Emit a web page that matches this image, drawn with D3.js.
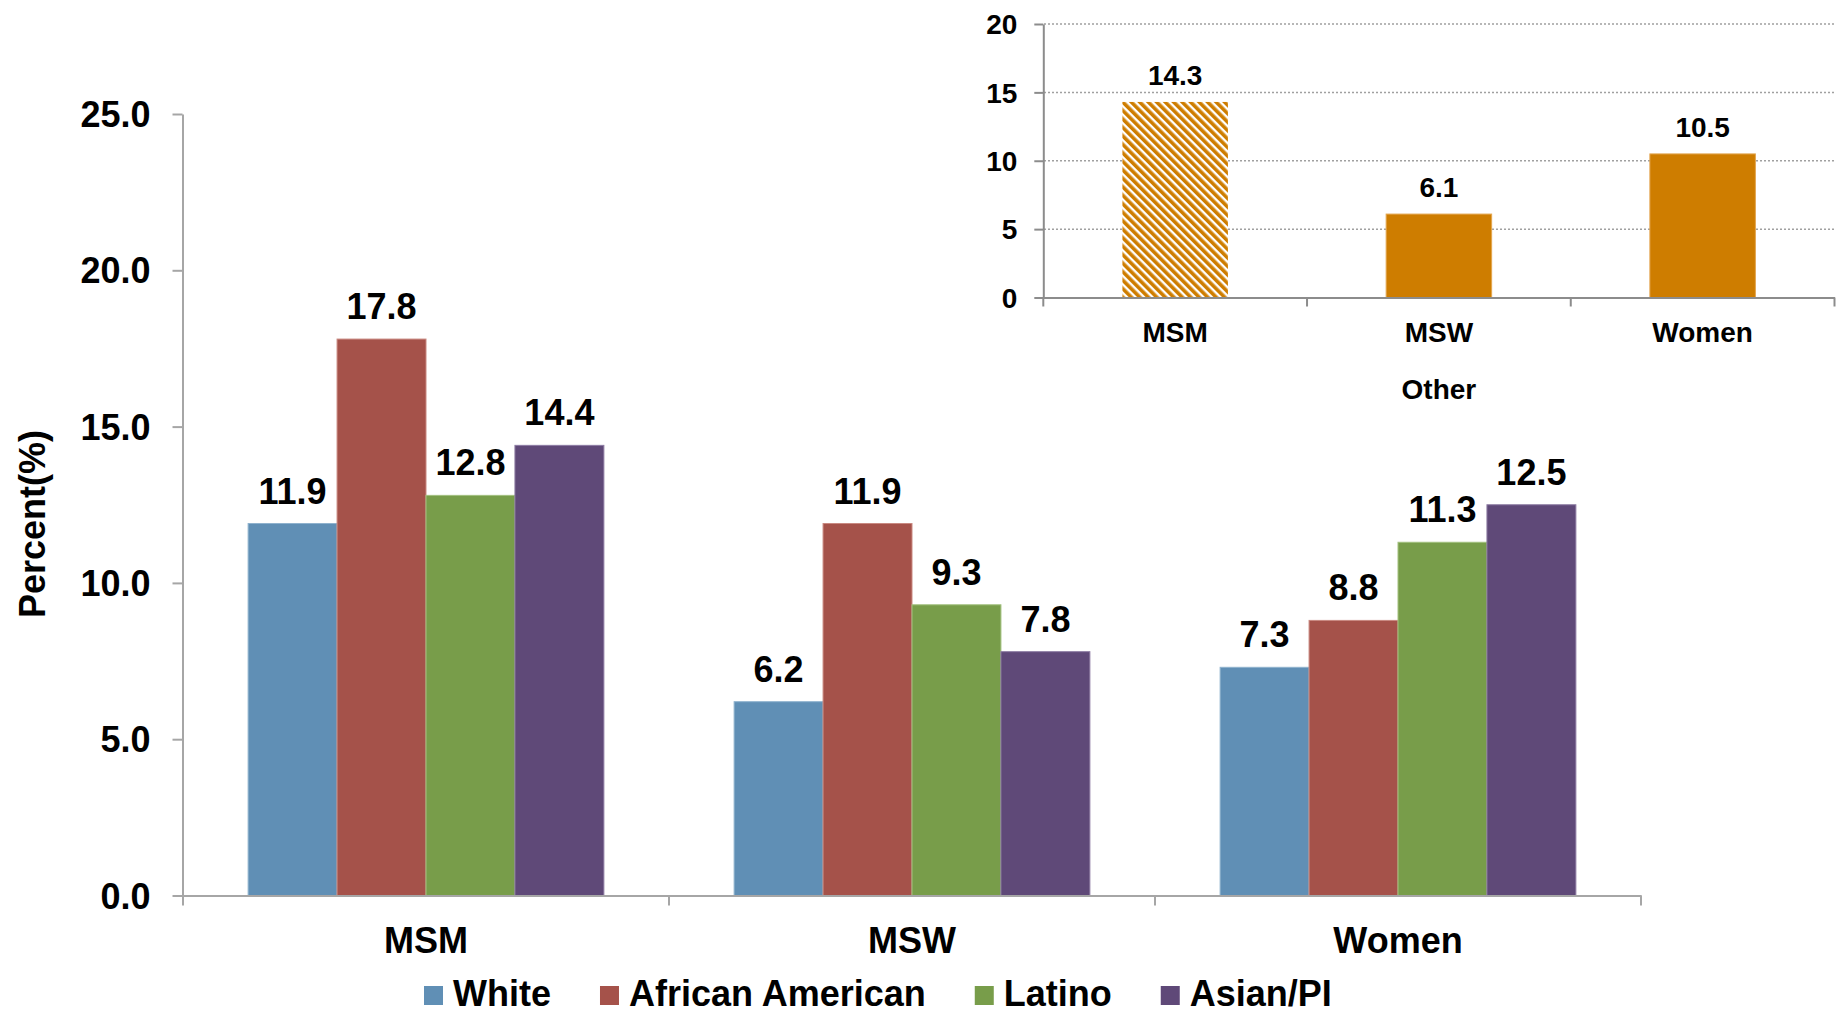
<!DOCTYPE html>
<html>
<head>
<meta charset="utf-8">
<script src="https://cdn.jsdelivr.net/npm/d3@7/dist/d3.min.js"></script>
<style>
  html, body { margin: 0; padding: 0; background: #fff; }
  svg { display: block; font-family: "Liberation Sans", Arial, sans-serif; font-weight: bold; }
</style>
</head>
<body>
<svg id="chart" width="1836" height="1016"></svg>
<script>
// ---- Data ----
const categories = ["MSM", "MSW", "Women"];
const seriesNames = ["White", "African American", "Latino", "Asian/PI"];
const whiteValues = [11.9, 6.2, 7.3];
const africanAmericanValues = [17.8, 11.9, 8.8];
const latinoValues = [12.8, 9.3, 11.3];
const asianPIValues = [14.4, 7.8, 12.5];
const mainTicks = [0, 5, 10, 15, 20, 25];

const otherCategories = ["MSM", "MSW", "Women"];
const otherValues = [14.3, 6.1, 10.5];
const otherTicks = [0, 5, 10, 15, 20];
const otherTitle = "Other";
const yTitle = "Percent(%)";

// ---- Styles ----
const colors = ["#608FB5", "#A5524A", "#789D4A", "#5F4978"];
const strokes = ["#8FB2CE", "#C98981", "#A3C17F", "#8D7CA3"];
const orange = "#CE7D00";
const axisColor = "#A6A6A6";

const seriesValues = [whiteValues, africanAmericanValues, latinoValues, asianPIValues];

const svg = d3.select("#chart");
const defs = svg.append("defs");
const pat = defs.append("pattern")
  .attr("id", "hatch")
  .attr("patternUnits", "userSpaceOnUse")
  .attr("width", 6).attr("height", 6)
  .attr("patternTransform", "rotate(-45)");
pat.append("rect").attr("width", 6).attr("height", 6).attr("fill", "#fff");
pat.append("rect").attr("x", 0).attr("width", 3.6).attr("height", 6).attr("fill", orange);

// ================= MAIN CHART =================
const y = d3.scaleLinear().domain([0, 25]).range([895.5, 114]);
const x = d3.scaleBand().domain(categories).range([183, 1641]).padding(0);
const bw = x.bandwidth();
const xs = d3.scaleBand().domain(seriesNames).range([0.134 * bw, 0.866 * bw]).padding(0);

// bars
seriesNames.forEach((s, si) => {
  const g = svg.append("g");
  g.selectAll("rect").data(categories).join("rect")
    .attr("x", c => x(c) + xs(s))
    .attr("y", (c, i) => y(seriesValues[si][i]))
    .attr("width", xs.bandwidth())
    .attr("height", (c, i) => y(0) - y(seriesValues[si][i]))
    .attr("fill", colors[si])
    .attr("stroke", strokes[si])
    .attr("stroke-width", 1);
  g.selectAll("text").data(categories).join("text")
    .attr("x", c => x(c) + xs(s) + xs.bandwidth() / 2)
    .attr("y", (c, i) => y(seriesValues[si][i]) - 20)
    .attr("text-anchor", "middle")
    .attr("font-size", 36)
    .attr("fill", "#000")
    .text((c, i) => seriesValues[si][i].toFixed(1));
});

// y axis
const yAxisG = svg.append("g")
  .attr("transform", "translate(182.5,0)")
  .call(d3.axisLeft(y).tickValues(mainTicks).tickFormat(d3.format(".1f")).tickSize(10).tickSizeOuter(0).tickPadding(22));
yAxisG.select(".domain").attr("stroke", axisColor).attr("stroke-width", 2);
yAxisG.selectAll(".tick line").attr("stroke", axisColor).attr("stroke-width", 2);
yAxisG.selectAll(".tick text").attr("font-size", 36).attr("font-family", "Liberation Sans, Arial, sans-serif").attr("font-weight", "bold").attr("fill", "#000").attr("dy", "0.35em");

// x axis
const xAxisG = svg.append("g")
  .attr("transform", `translate(0,${y(0)})`)
  .call(d3.axisBottom(x).tickSize(0).tickSizeOuter(0));
xAxisG.select(".domain").attr("stroke", axisColor).attr("stroke-width", 2);
xAxisG.selectAll(".tick text").attr("font-size", 36).attr("font-family", "Liberation Sans, Arial, sans-serif").attr("font-weight", "bold").attr("fill", "#000").attr("y", 57).attr("dy", 0);
const boundaries = categories.map(c => x(c)).concat([x.range()[1]]);
xAxisG.selectAll("line.bound").data(boundaries).join("line")
  .attr("class", "bound")
  .attr("x1", d => d).attr("x2", d => d)
  .attr("y1", 0).attr("y2", 10)
  .attr("stroke", axisColor).attr("stroke-width", 2);

// y title
svg.append("text")
  .attr("transform", "translate(45,524) rotate(-90)")
  .attr("text-anchor", "middle")
  .attr("font-size", 36)
  .attr("fill", "#000")
  .text(yTitle);

// legend
const legend = svg.append("g");
let lx = 424;
seriesNames.forEach((s, si) => {
  legend.append("rect").attr("x", lx).attr("y", 986).attr("width", 19).attr("height", 19).attr("fill", colors[si]);
  const t = legend.append("text").attr("x", lx + 29).attr("y", 1006).attr("font-size", 36).attr("fill", "#000").text(s);
  lx = lx + 29 + t.node().getComputedTextLength() + 49;
});

// ================= INSET CHART =================
const yi = d3.scaleLinear().domain([0, 20]).range([297.5, 24]);
const xi = d3.scaleBand().domain(otherCategories).range([1043.3, 1834.5]).padding(0);
const bwi = xi.bandwidth();

// gridlines
svg.append("g").selectAll("line").data(otherTicks.filter(d => d > 0)).join("line")
  .attr("x1", 1044).attr("x2", 1836)
  .attr("y1", d => yi(d)).attr("y2", d => yi(d))
  .attr("stroke", "#A0A0A0").attr("stroke-width", 1.5).attr("stroke-dasharray", "2,2");

// bars
svg.append("g").selectAll("rect").data(otherCategories).join("rect")
  .attr("x", c => xi(c) + 0.3 * bwi)
  .attr("y", (c, i) => yi(otherValues[i]))
  .attr("width", 0.4 * bwi)
  .attr("height", (c, i) => yi(0) - yi(otherValues[i]))
  .attr("fill", (c, i) => i === 0 ? "url(#hatch)" : orange)
  .attr("stroke", (c, i) => i === 0 ? "none" : "#E3A54E")
  .attr("stroke-width", 1);

svg.append("g").selectAll("text").data(otherCategories).join("text")
  .attr("x", c => xi(c) + bwi / 2)
  .attr("y", (c, i) => yi(otherValues[i]) - 17)
  .attr("text-anchor", "middle")
  .attr("font-size", 28)
  .attr("fill", "#000")
  .text((c, i) => otherValues[i].toFixed(1));

// y axis
const yiAxisG = svg.append("g")
  .attr("transform", "translate(1043.3,0)")
  .call(d3.axisLeft(yi).tickValues(otherTicks).tickFormat(d3.format("d")).tickSize(9).tickSizeOuter(0).tickPadding(17));
yiAxisG.select(".domain").attr("stroke", "#8C8C8C").attr("stroke-width", 2);
yiAxisG.selectAll(".tick line").attr("stroke", "#8C8C8C").attr("stroke-width", 2);
yiAxisG.selectAll(".tick text").attr("font-size", 28).attr("font-family", "Liberation Sans, Arial, sans-serif").attr("font-weight", "bold").attr("fill", "#000").attr("dy", "0.35em");

// x axis
const xiAxisG = svg.append("g")
  .attr("transform", `translate(0,${yi(0)})`)
  .call(d3.axisBottom(xi).tickSize(0).tickSizeOuter(0));
xiAxisG.select(".domain").attr("stroke", "#8C8C8C").attr("stroke-width", 2);
xiAxisG.selectAll(".tick text").attr("font-size", 28).attr("font-family", "Liberation Sans, Arial, sans-serif").attr("font-weight", "bold").attr("fill", "#000").attr("y", 44.5).attr("dy", 0);
const iBounds = otherCategories.map(c => xi(c)).concat([xi.range()[1]]);
xiAxisG.selectAll("line.bound").data(iBounds).join("line")
  .attr("class", "bound")
  .attr("x1", d => d).attr("x2", d => d)
  .attr("y1", 0).attr("y2", 9)
  .attr("stroke", "#8C8C8C").attr("stroke-width", 2);

svg.append("text")
  .attr("x", (xi.range()[0] + xi.range()[1]) / 2)
  .attr("y", 399)
  .attr("text-anchor", "middle")
  .attr("font-size", 28)
  .attr("fill", "#000")
  .text(otherTitle);
</script>
</body>
</html>
